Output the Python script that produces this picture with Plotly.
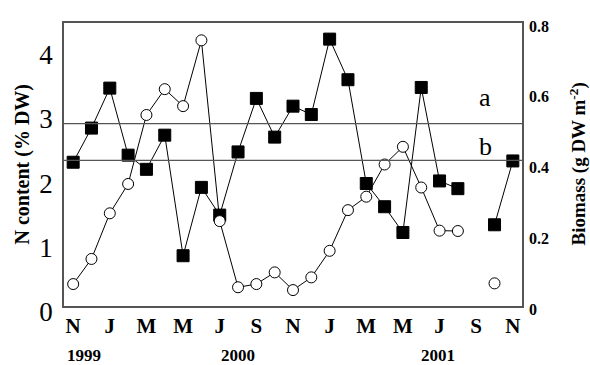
import plotly.graph_objects as go

# Month index 0 = Nov 1999 ... 24 = Nov 2001
months = list(range(25))
tick_pos = list(range(0, 25, 2))
tick_text = ["N", "J", "M", "M", "J", "S", "N", "J", "M", "M", "J", "S", "N"]

# N content (% DW) - filled squares (left axis)
n_content = [2.23, 2.76, 3.38, 2.34, 2.12, 2.65, 0.78, 1.84, 1.41, 2.39, 3.22, 2.62, 3.10,
             2.97, 4.14, 3.51, 1.90, 1.54, 1.14, 3.39, 1.94, 1.82, None, 1.26, 2.25]

# Biomass (g DW m-2) - open circles (right axis)
biomass = [0.062, 0.133, 0.262, 0.345, 0.540, 0.613, 0.565, 0.751, 0.240, 0.053, 0.062, 0.095, 0.045,
           0.081, 0.156, 0.271, 0.309, 0.400, 0.450, 0.335, 0.213, 0.212, None, 0.064, None]

# reference lines (N content)
ref_labels = ["a", "b"]
ref_values = [2.83, 2.26]

# year labels (month index, text)
year_pos = [0.6, 9.0, 19.9]
year_text = ["1999", "2000", "2001"]

SERIF = "Liberation Serif, Times New Roman, serif"
FRAME = "#555555"

fig = go.Figure()
fig.add_trace(go.Scatter(
    x=months, y=n_content, mode="lines+markers", connectgaps=False,
    line=dict(color="black", width=1),
    marker=dict(symbol="square", size=12, color="black", line=dict(color="black", width=1)),
    showlegend=False, yaxis="y", hoverinfo="skip"))
fig.add_trace(go.Scatter(
    x=months, y=biomass, mode="lines+markers", connectgaps=False,
    line=dict(color="black", width=1),
    marker=dict(symbol="circle", size=11, color="white", line=dict(color="black", width=1)),
    showlegend=False, yaxis="y2", hoverinfo="skip"))

shapes = []
annotations = []
for lab, v, ys in zip(ref_labels, ref_values, [10, -3]):
    shapes.append(dict(type="line", xref="paper", x0=0, x1=1, yref="y", y0=v, y1=v,
                       line=dict(color=FRAME, width=1.2)))
    annotations.append(dict(x=22.5, y=v, xref="x", yref="y", text=lab, showarrow=False,
                            xanchor="center", yanchor="bottom", yshift=ys,
                            font=dict(family=SERIF, size=26, color="black")))

for xp, t in zip(year_pos, year_text):
    annotations.append(dict(x=xp, y=0, xref="x", yref="paper", text="<b>" + t + "</b>",
                            showarrow=False, xanchor="center", yanchor="middle", yshift=-49,
                            font=dict(family=SERIF, size=17, color="black")))

annotations.append(dict(x=(22 - 64) / 458.0, y=0.5, xref="paper", yref="paper", xanchor="center",
                        text="<b>N content (% DW)</b>", textangle=-90, showarrow=False,
                        font=dict(family=SERIF, size=20, color="black")))
annotations.append(dict(x=(578 - 64) / 458.0, y=0.5, xref="paper", yref="paper", xanchor="center",
                        text="<b>Biomass (g DW m<sup>-2</sup>)</b>", textangle=-90, showarrow=False,
                        font=dict(family=SERIF, size=19, color="black")))

fig.update_layout(
    width=590, height=365,
    margin=dict(l=64, r=68, t=23, b=59),
    paper_bgcolor="white", plot_bgcolor="white",
    shapes=shapes, annotations=annotations,
    xaxis=dict(range=[-0.5, 24.5], tickvals=tick_pos, ticktext=["<b>%s</b>" % t for t in tick_text],
               showgrid=False, zeroline=False, showline=True, mirror=True,
               linecolor=FRAME, linewidth=1.5, ticks="",
               tickfont=dict(family=SERIF, size=21, color="black")),
    yaxis=dict(range=[0, 4.39], tickvals=[0, 1, 2, 3, 4], showgrid=False, zeroline=False,
               showline=True, mirror=True, linecolor=FRAME, linewidth=1.5, ticks="",
               tickfont=dict(family=SERIF, size=27, color="black"), ticklabelstandoff=4,
               ticklabelshift=6),
    yaxis2=dict(range=[0, 0.8], tickvals=[0, 0.2, 0.4, 0.6, 0.8],
                ticktext=["<b>0</b>", "<b>0.2</b>", "<b>0.4</b>", "<b>0.6</b>", "<b>0.8</b>"],
                overlaying="y", side="right", showgrid=False, zeroline=False, showline=False,
                ticks="", tickfont=dict(family=SERIF, size=16, color="black"),
                ticklabelstandoff=6, ticklabelshift=3),
)

fig.write_html("out.html", config={"displayModeBar": False},
               post_script="document.body.style.margin='0';")
